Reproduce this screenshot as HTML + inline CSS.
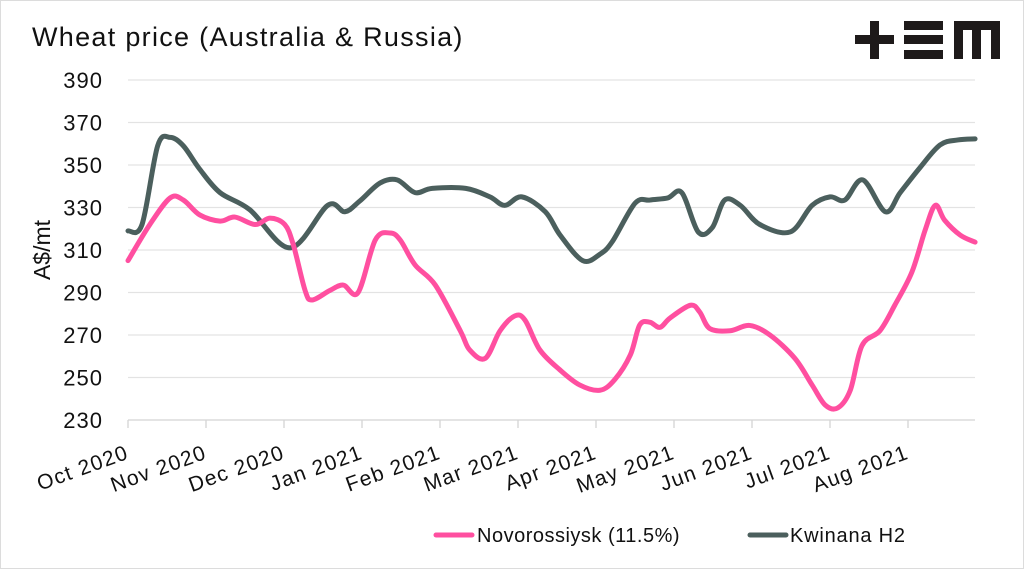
<!DOCTYPE html>
<html><head><meta charset="utf-8"><style>
body{margin:0;background:#fff}
svg{display:block;font-family:"Liberation Sans",sans-serif}
</style></head><body>
<svg width="1024" height="569" viewBox="0 0 1024 569">
<rect x="0.5" y="0.5" width="1023" height="568" fill="#fff" stroke="#dcdcdc" stroke-width="1"/>
<text x="32" y="46" font-size="27" letter-spacing="1.3" fill="#111">Wheat price (Australia &amp; Russia)</text>
<g fill="#1e1a1a">
<rect x="855" y="35" width="39" height="9"/><rect x="870" y="21" width="9" height="38"/>
<rect x="904" y="21" width="39" height="9"/><rect x="904" y="35" width="39" height="9"/><rect x="904" y="50" width="39" height="9"/>
<rect x="954" y="21" width="46" height="9"/><rect x="954" y="21" width="9" height="38"/><rect x="972" y="21" width="9" height="38"/><rect x="991" y="21" width="9" height="38"/>
</g>
<g id="grid"></g><g id="yl"></g><g id="xl"></g><g id="series"></g>
<text transform="translate(50,250) rotate(-90)" text-anchor="middle" font-size="23" fill="#111">A$/mt</text>
<g>
<g><line x1="436" y1="535" x2="472" y2="535" stroke="#ff4fa0" stroke-width="5" stroke-linecap="round"/><text x="477" y="542" font-size="20" letter-spacing="0.5" fill="#111">Novorossiysk (11.5%)</text></g>
<g><line x1="750" y1="535" x2="786" y2="535" stroke="#4b5f5d" stroke-width="5" stroke-linecap="round"/><text x="790" y="542" font-size="20" letter-spacing="0.8" fill="#111">Kwinana H2</text></g>
</g>
</svg>
<script>
const months=["Oct 2020","Nov 2020","Dec 2020","Jan 2021","Feb 2021","Mar 2021","Apr 2021","May 2021","Jun 2021","Jul 2021","Aug 2021"];
const yTicks=[230,250,270,290,310,330,350,370,390];
const kwT=[0,.18,.38,.54,.71,.92,1.18,1.56,2.08,2.56,2.78,2.97,3.23,3.45,3.68,3.90,4.33,4.64,4.83,5.05,5.35,5.54,5.83,6.05,6.21,6.50,6.69,6.92,7.10,7.31,7.49,7.65,7.85,8.10,8.49,8.77,9.0,9.19,9.42,9.71,9.90,10.15,10.41,10.64,10.86];
const kwV=[319,322,359,363,359,348,337,329,311,331,328,333,341.5,343,337,339,339,335,331,335,328,317,305,308,314,332,333.5,334.5,337,318.5,320.5,333.5,331,322,318.5,331,335,333.5,343,328,337,348.6,359.4,361.8,362.3];
const nvT=[0,.28,.54,.71,.92,1.18,1.37,1.63,1.82,2.01,2.12,2.27,2.36,2.59,2.76,2.95,3.17,3.36,3.49,3.68,3.94,4.26,4.38,4.58,4.77,4.96,5.09,5.28,5.54,5.79,6.05,6.24,6.44,6.56,6.69,6.82,6.95,7.21,7.33,7.46,7.72,7.97,8.23,8.55,8.77,8.94,9.10,9.26,9.41,9.64,9.83,10.05,10.22,10.35,10.47,10.67,10.86];
const nvV=[305,322,334.5,333.5,326.5,323.6,325.5,322,325,322,312.4,291,286.5,291,293.5,290,314.7,318,314.7,303,293.5,272,263,259,272,279,277,263,253.5,246.5,244,249,260.6,274.7,276,273.6,278,284,280.8,273,272,274.5,270,259,246.5,237,235.7,244,265,272,284,299.6,319.4,331,324,317,313.7];
const X=t=>128+t*78, Y=v=>80+(390-v)*2.125;
const NS="http://www.w3.org/2000/svg";
function mk(tag,at,parent){const e=document.createElementNS(NS,tag);for(const k in at)e.setAttribute(k,at[k]);parent.appendChild(e);return e;}
const grid=document.getElementById('grid'),yl=document.getElementById('yl'),xl=document.getElementById('xl'),ser=document.getElementById('series');
yTicks.forEach(v=>{
 const l=mk('line',{x1:128,x2:975,y1:Y(v),y2:Y(v),stroke:v===230?'#d4d4d4':'#e3e3e3','stroke-width':1.3},grid);
 
 
 const t=mk('text',{x:103,y:Y(v)+8,'text-anchor':'end','font-size':22,'letter-spacing':1,fill:'#111'},yl);
 t.textContent=v;
 
 
});
months.forEach((m,i)=>{
 const tk=mk('line',{x1:X(i),x2:X(i),y1:420,y2:428,stroke:'#d4d4d4','stroke-width':1.3},grid);
 
 
 const t=mk('text',{transform:`translate(${X(i)+2},458) rotate(-20)`,'text-anchor':'end','font-size':21,'letter-spacing':1.3,fill:'#111'},xl);
 t.textContent=m;
 
 
});
function path(ts,vs){const p=ts.map((t,i)=>[X(t),Y(vs[i])]);let d=`M${p[0][0]},${p[0][1]}`;
 for(let i=0;i<p.length-1;i++){const a=p[Math.max(i-1,0)],b=p[i],c=p[i+1],e=p[Math.min(i+2,p.length-1)];
 d+=` C${b[0]+(c[0]-a[0])/6},${b[1]+(c[1]-a[1])/6} ${c[0]-(e[0]-b[0])/6},${c[1]-(e[1]-b[1])/6} ${c[0]},${c[1]}`;}return d;}
const k=mk('path',{d:path(kwT,kwV),fill:'none',stroke:'#4b5f5d','stroke-width':5,'stroke-linejoin':'round','stroke-linecap':'round'},ser);


const n=mk('path',{d:path(nvT,nvV),fill:'none',stroke:'#ff4fa0','stroke-width':5,'stroke-linejoin':'round','stroke-linecap':'round'},ser);


</script>
</body></html>
